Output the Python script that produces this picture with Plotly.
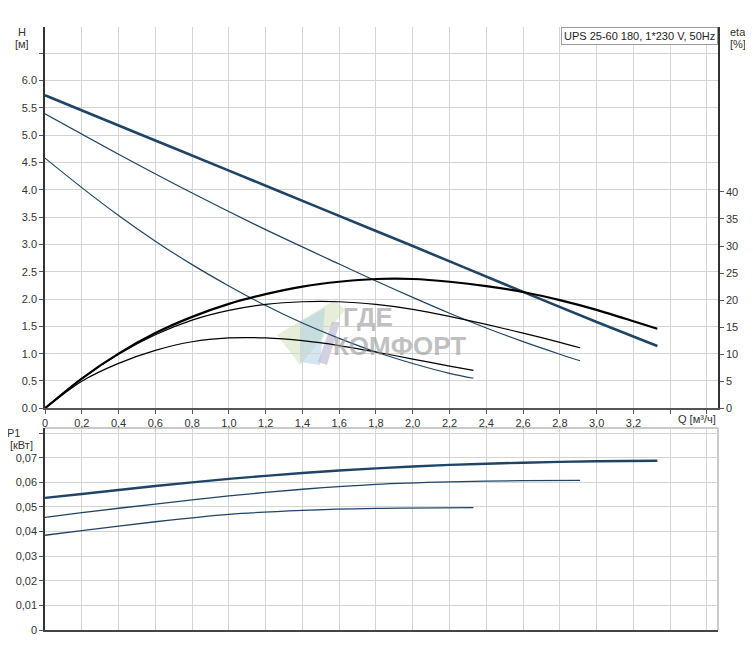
import plotly.graph_objects as go

# ---------------- data ----------------
# Head curves H [m] vs Q [m3/h]
q_h3 = [0, 0.5, 1.0, 1.5, 2.0, 2.5, 3.0, 3.33]
h3 = [5.73, 5.04, 4.35, 3.66, 2.97, 2.27, 1.58, 1.14]

q_h2 = [0, 0.4, 0.8, 1.2, 1.6, 1.8, 2.0, 2.2, 2.4, 2.6, 2.8, 2.91]
h2 = [5.39, 4.65, 3.94, 3.27, 2.64, 2.33, 2.03, 1.74, 1.47, 1.22, 0.99, 0.87]

q_h1 = [0, 0.2, 0.4, 0.6, 0.8, 1.0, 1.2, 1.4, 1.6, 1.8, 2.0, 2.2, 2.33]
h1 = [4.58, 4.04, 3.53, 3.06, 2.63, 2.24, 1.88, 1.56, 1.28, 1.03, 0.82, 0.64, 0.55]

# Efficiency curves eta [%]
q_e3 = [0, 0.2, 0.4, 0.6, 0.8, 1.0, 1.2, 1.4, 1.6, 1.8, 2.0, 2.2, 2.4, 2.6, 2.8, 3.0, 3.2, 3.33]
e3 = [0, 5.5, 10.1, 13.9, 16.9, 19.3, 21.1, 22.5, 23.4, 23.9, 23.9, 23.4, 22.6, 21.5, 20.0, 18.2, 16.1, 14.7]

q_e2 = [0, 0.2, 0.4, 0.6, 0.8, 1.0, 1.2, 1.4, 1.6, 1.8, 2.0, 2.2, 2.4, 2.6, 2.8, 2.91]
e2 = [0, 5.5, 10.0, 13.6, 16.3, 18.1, 19.2, 19.7, 19.7, 19.2, 18.3, 17.0, 15.5, 13.9, 12.2, 11.2]

q_e1 = [0, 0.2, 0.4, 0.6, 0.8, 1.0, 1.2, 1.4, 1.6, 1.8, 2.0, 2.2, 2.33]
e1 = [0, 5.0, 8.3, 10.7, 12.3, 13.0, 13.0, 12.5, 11.6, 10.4, 9.1, 7.8, 7.0]

# Power curves P1 [kW]
q_p3 = [0, 0.2, 0.6, 1.0, 1.4, 1.8, 2.2, 2.6, 3.0, 3.33]
p3 = [0.0537, 0.0553, 0.0585, 0.0614, 0.0638, 0.0657, 0.0671, 0.0680, 0.0686, 0.0688]

q_p2 = [0, 0.2, 0.6, 1.0, 1.4, 1.8, 2.2, 2.6, 2.91]
p2 = [0.0458, 0.0477, 0.0512, 0.0545, 0.0572, 0.0592, 0.0602, 0.0607, 0.0608]

q_p1 = [0, 0.2, 0.6, 1.0, 1.4, 1.8, 2.33]
p1 = [0.0385, 0.0404, 0.0440, 0.0470, 0.0486, 0.0494, 0.0497]

# Tick labels
q_ticks = [0, 0.2, 0.4, 0.6, 0.8, 1.0, 1.2, 1.4, 1.6, 1.8, 2.0, 2.2, 2.4, 2.6, 2.8, 3.0, 3.2, 3.4, 3.6]
q_labels = ["0", "0,2", "0,4", "0,6", "0,8", "1,0", "1,2", "1,4", "1,6", "1,8", "2,0",
            "2,2", "2,4", "2,6", "2,8", "3,0", "3,2", "", ""]
h_ticks = [0, 0.5, 1.0, 1.5, 2.0, 2.5, 3.0, 3.5, 4.0, 4.5, 5.0, 5.5, 6.0, 6.5]
h_labels = ["0.0", "0.5", "1.0", "1.5", "2.0", "2.5", "3.0", "3.5", "4.0", "4.5", "5.0", "5.5", "6.0", ""]
e_ticks = [0, 5, 10, 15, 20, 25, 30, 35, 40]
e_labels = ["0", "5", "10", "15", "20", "25", "30", "35", "40"]
p_ticks = [0, 0.01, 0.02, 0.03, 0.04, 0.05, 0.06, 0.07, 0.08]
p_labels = ["0", "0,01", "0,02", "0,03", "0,04", "0,05", "0,06", "0,07", ""]

title_text = "UPS 25-60 180, 1*230 V, 50Hz"

# ---------------- figure ----------------
BLUE = "#1f4466"
BLACK = "#000000"
FONT = "Liberation Sans, Arial, sans-serif"
OFF = 8  # default page body margin
W, H = 753 - OFF, 659 - 2 * OFF
ML, MR, MT, MB = 37, 35, 19, 21
TOP_DOM = [0.3677, 1.0]
BOT_DOM = [0.0, 0.335]

fig = go.Figure()

def line(x, y, color, width, xa="x", ya="y"):
    fig.add_trace(go.Scatter(x=x, y=y, mode="lines", xaxis=xa, yaxis=ya,
                             line=dict(color=color, width=width, shape="spline", smoothing=0.8),
                             hoverinfo="skip", showlegend=False))

line(q_h1, h1, BLUE, 1.2)
line(q_h2, h2, BLUE, 1.2)
line(q_h3, h3, BLUE, 2.6)
line(q_e1, e1, BLACK, 1.2, ya="y2")
line(q_e2, e2, BLACK, 1.2, ya="y2")
line(q_e3, e3, BLACK, 2.2, ya="y2")
line(q_p1, p1, BLUE, 1.3, xa="x2", ya="y3")
line(q_p2, p2, BLUE, 1.3, xa="x2", ya="y3")
line(q_p3, p3, BLUE, 2.4, xa="x2", ya="y3")

tickfont = dict(family=FONT, size=11, color="#333333")
grid = "#d4d4d4"

fig.update_layout(
    width=W, height=H,
    margin=dict(l=ML, r=MR, t=MT, b=MB, autoexpand=False),
    paper_bgcolor="white", plot_bgcolor="white",
    showlegend=False,
    xaxis=dict(domain=[0, 1], anchor="y", range=[0, 3.66], tickvals=q_ticks, ticktext=q_labels,
               showgrid=True, gridcolor=grid, gridwidth=1, zeroline=False,
               showline=True, linecolor="#555555", linewidth=2,
               ticks="outside", ticklen=4, tickcolor="#555555", tickfont=tickfont),
    xaxis2=dict(domain=[0, 1], anchor="y3", range=[0, 3.66], tickvals=q_ticks, showticklabels=False,
                showgrid=True, gridcolor=grid, gridwidth=1, zeroline=False,
                showline=True, linecolor="#444444", linewidth=1.5,
                ticks="", matches="x"),
    yaxis=dict(domain=TOP_DOM, anchor="x", range=[0, 6.98], tickvals=h_ticks, ticktext=h_labels,
               showgrid=True, gridcolor=grid, gridwidth=1, zeroline=False,
               showline=True, linecolor="#333333", linewidth=1.5,
               ticks="outside", ticklen=4, tickcolor="#555555", tickfont=tickfont),
    yaxis2=dict(overlaying="y", side="right", anchor="x", range=[0, 70.5],
                tickvals=e_ticks, ticktext=e_labels, showgrid=False, zeroline=False,
                showline=True, linecolor="#333333", linewidth=1.5,
                ticks="outside", ticklen=4, tickcolor="#555555", tickfont=tickfont),
    yaxis3=dict(domain=BOT_DOM, anchor="x2", range=[0, 0.0821], tickvals=p_ticks, ticktext=p_labels,
                showgrid=True, gridcolor=grid, gridwidth=1, zeroline=False,
                showline=True, linecolor="#333333", linewidth=1.5,
                ticks="outside", ticklen=4, tickcolor="#555555", tickfont=tickfont),
)

# frame of the lower panel (top and right edges, light gray)
fig.add_shape(type="line", xref="paper", yref="paper", x0=0, x1=1, y0=BOT_DOM[1], y1=BOT_DOM[1],
              line=dict(color="#b8b8b8", width=1.5), layer="below")
fig.add_shape(type="line", xref="paper", yref="paper", x0=1, x1=1, y0=0, y1=BOT_DOM[1],
              line=dict(color="#b8b8b8", width=1.5), layer="below")

pw = W - ML - MR
ph = H - MT - MB

def px(xp):  # page pixel -> paper fraction
    return (xp - OFF - ML) / pw

def py(yp):
    return (H - MB - (yp - OFF)) / ph

# watermark logo (faint)
fig.add_shape(type="path", xref="paper", yref="paper", layer="below",
              path=f"M {px(277)},{py(335)} L {px(335)},{py(300)} L {px(345)},{py(310)} L {px(300)},{py(365)} Z",
              fillcolor="rgba(200,215,170,0.45)", line=dict(width=0))
fig.add_shape(type="path", xref="paper", yref="paper", layer="below",
              path=f"M {px(300)},{py(322)} L {px(325)},{py(308)} L {px(320)},{py(365)} L {px(300)},{py(362)} Z",
              fillcolor="rgba(170,205,225,0.5)", line=dict(width=0))
fig.add_shape(type="path", xref="paper", yref="paper", layer="below",
              path=f"M {px(318)},{py(362)} L {px(332)},{py(322)} L {px(340)},{py(322)} L {px(327)},{py(365)} Z",
              fillcolor="rgba(175,170,200,0.55)", line=dict(width=0))

wm_font = dict(family="Liberation Sans, Arial, sans-serif", size=26, color="rgba(150,150,150,0.6)")
fig.add_annotation(xref="paper", yref="paper", showarrow=False, xanchor="left", yanchor="middle",
                   text="<b>ГДЕ</b>", x=px(341), y=py(317), font=wm_font)
fig.add_annotation(xref="paper", yref="paper", showarrow=False, xanchor="left", yanchor="middle",
                   text="<b>КОМФОРТ</b>", x=px(331), y=py(346), font=wm_font)

lab = dict(family=FONT, size=11, color="#333333")
def text(t, xp, yp, anchor="center"):
    fig.add_annotation(xref="paper", yref="paper", x=px(xp), y=py(yp), text=t, showarrow=False,
                       xanchor=anchor, yanchor="middle", font=lab)

text("H", 22, 32)
text("[м]", 22, 44)
text("eta", 738, 32)
text("[%]", 738, 44)
text("P1", 14, 433)
text("[кВт]", 8, 445, anchor="left")
text("Q [м³/ч]", 697, 419)

fig.add_annotation(xref="paper", yref="paper", x=1, y=1, xanchor="right", yanchor="top",
                   text=title_text, showarrow=False, font=dict(family=FONT, size=11, color="#222222"),
                   bgcolor="white", bordercolor="#9a9a9a", borderwidth=1, borderpad=2)

fig.write_html("out.html")
